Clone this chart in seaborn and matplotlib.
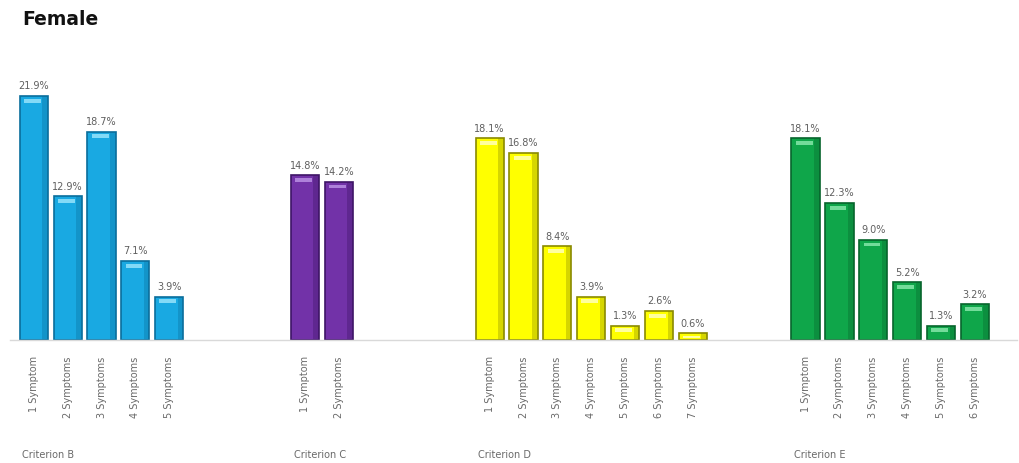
import matplotlib
matplotlib.use("Agg")
import matplotlib.pyplot as plt
from matplotlib.patches import Rectangle
import matplotlib.transforms as mtransforms
import numpy as np
import pandas as pd
import seaborn as sns

# Share of women reporting each number of symptoms, per criterion (%)
criteria = ["Criterion B", "Criterion C", "Criterion D", "Criterion E"]
b_values = [21.9, 12.9, 18.7, 7.1, 3.9]
c_values = [14.8, 14.2]
d_values = [18.1, 16.8, 8.4, 3.9, 1.3, 2.6, 0.6]
e_values = [18.1, 12.3, 9.0, 5.2, 1.3, 3.2]
symptom_labels = ["1 Symptom", "2 Symptoms", "3 Symptoms", "4 Symptoms",
                  "5 Symptoms", "6 Symptoms", "7 Symptoms"]

# styling / layout
fills = ["#19A9E2", "#7232A8", "#FFFF00", "#0FA64A"]
edges = ["#0A6E9C", "#3E1566", "#8A8A00", "#07652C"]
highlights = ["#8FE0FA", "#B58BE0", "#FFFFB0", "#7FE3A4"]
group_starts = [0.0, 8.0, 13.45, 22.77]
bar_width = 0.83

series = [b_values, c_values, d_values, e_values]
rows = []
for crit, start, vals in zip(criteria, group_starts, series):
    for i, v in enumerate(vals):
        rows.append({"criterion": crit, "pos": start + i, "value": v,
                     "label": symptom_labels[i]})
df = pd.DataFrame(rows)

sns.set_theme(style="white")
plt.rcParams["font.family"] = ["DejaVu Sans"]

fig = plt.figure(figsize=(10.2, 4.64), dpi=100)
ax = fig.add_axes([0.0098, 0.2651, 0.987, 0.6002])

sns.barplot(data=df, x="pos", y="value", hue="criterion",
            hue_order=criteria, palette=dict(zip(criteria, fills)),
            native_scale=True, dodge=False, width=bar_width,
            saturation=1, legend=False, ax=ax)

for container, ec, hl in zip(ax.containers, edges, highlights):
    for patch in container:
        patch.set_edgecolor(ec)
        patch.set_linewidth(1.2)
        x0, w, h = patch.get_x(), patch.get_width(), patch.get_height()
        # darker right side for a bevelled look
        ax.add_patch(Rectangle((x0 + w * 0.80, 0), w * 0.20, h,
                               facecolor=ec, alpha=0.35, linewidth=0,
                               zorder=patch.get_zorder() + 0.1))
        # light cap near the top of each bar
        cap = min(0.35, h * 0.3)
        ax.add_patch(Rectangle((x0 + w * 0.15, h - cap - 0.25), w * 0.6, cap,
                               facecolor=hl, alpha=0.9, linewidth=0,
                               zorder=patch.get_zorder() + 0.2))
    ax.bar_label(container, fmt="%.1f%%", padding=4, fontsize=7,
                 color="#5f5f5f")

ax.set_ylim(0, 25)
ax.set_xlim(-0.7, 29.0)
ax.set_xticks(df["pos"])
ax.set_xticklabels(df["label"], rotation=90, fontsize=7, color="#6a6a6a",
                   va="top")
ax.tick_params(axis="x", length=0, pad=11)
ax.set_yticks([])
ax.set_xlabel("")
ax.set_ylabel("")
for side in ["top", "left", "right"]:
    ax.spines[side].set_visible(False)
ax.spines["bottom"].set_color("#d9d9d9")
ax.spines["bottom"].set_linewidth(1.0)

# criterion names under each group
trans = mtransforms.blended_transform_factory(ax.transData, fig.transFigure)
for crit, start in zip(criteria, group_starts):
    ax.text(start - bar_width / 2 + 0.08, 1 - 455 / 464, crit, transform=trans,
            fontsize=7, color="#6a6a6a", ha="left", va="center")

fig.text(0.022, 0.958, "Female", fontsize=13.5, fontweight="bold",
         color="#111111", ha="left", va="center")

fig.savefig("out.png", dpi=100, facecolor="white")
